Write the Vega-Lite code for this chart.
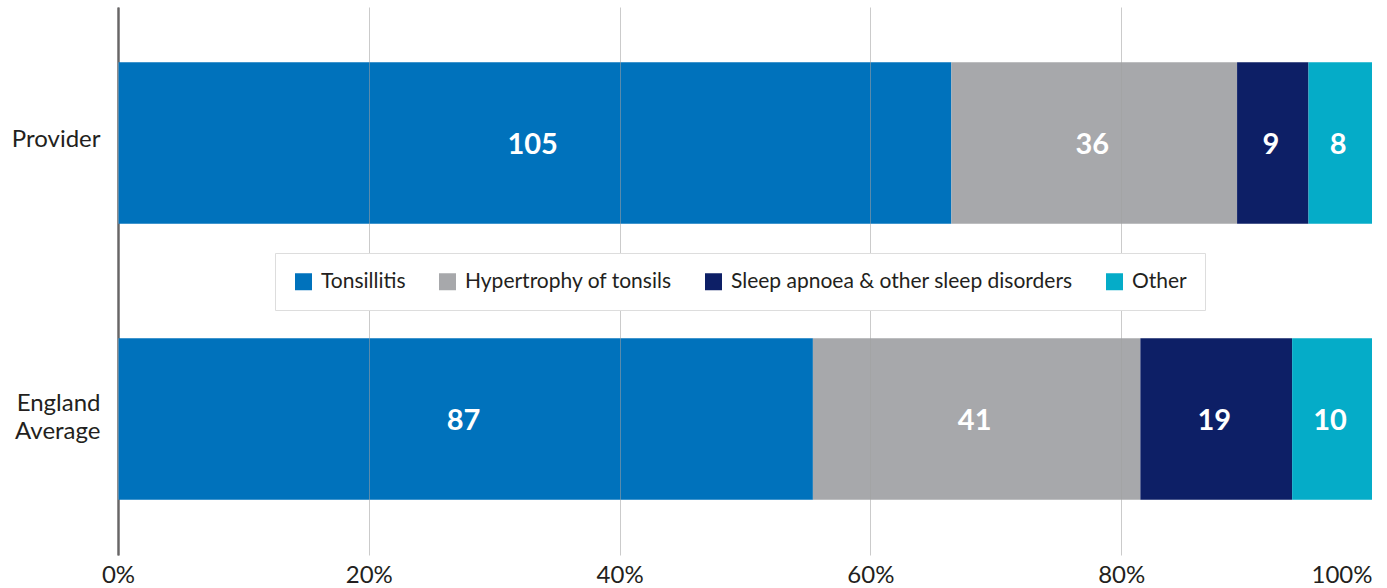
{
  "$schema": "https://vega.github.io/schema/vega-lite/v6.json",
  "width": 1254,
  "height": 548,
  "autosize": {"type": "none"},
  "padding": {"left": 118, "top": 7, "right": 15, "bottom": 33},
  "background": "white",
  "config": {"view": {"stroke": null}, "font": "Lato"},
  "data": {
    "values": [
      {"group": "Provider", "cause": "Tonsillitis", "value": 105},
      {"group": "Provider", "cause": "Hypertrophy of tonsils", "value": 36},
      {"group": "Provider", "cause": "Sleep apnoea & other sleep disorders", "value": 9},
      {"group": "Provider", "cause": "Other", "value": 8},
      {"group": "England Average", "cause": "Tonsillitis", "value": 87},
      {"group": "England Average", "cause": "Hypertrophy of tonsils", "value": 41},
      {"group": "England Average", "cause": "Sleep apnoea & other sleep disorders", "value": 19},
      {"group": "England Average", "cause": "Other", "value": 10}
    ]
  },
  "transform": [
    {"calculate": "indexof(['Tonsillitis','Hypertrophy of tonsils','Sleep apnoea & other sleep disorders','Other'], datum.cause)", "as": "ord"},
    {"stack": "value", "groupby": ["group"], "sort": [{"field": "ord", "order": "ascending"}], "offset": "normalize", "as": ["x0", "x1"]},
    {"calculate": "(datum.x0 + datum.x1) / 2", "as": "xm"}
  ],
  "encoding": {
    "y": {
      "field": "group",
      "type": "nominal",
      "sort": ["Provider", "England Average"],
      "scale": {"paddingInner": 0.415, "paddingOuter": 0.2},
      "axis": {
        "title": null,
        "ticks": false,
        "domainColor": "#231f20",
        "domainWidth": 2,
        "labelFontSize": 24,
        "labelColor": "#231f20",
        "labelPadding": 18,
        "labelLineHeight": 28,
        "labelOffset": {"condition": {"test": "datum.value == 'England Average'", "value": -15}, "value": -3},
        "labelExpr": "datum.label == 'England Average' ? ['England', 'Average'] : datum.label"
      }
    }
  },
  "layer": [
    {
      "mark": {"type": "bar"},
      "encoding": {
        "x": {
          "field": "x0",
          "type": "quantitative",
          "scale": {"domain": [0, 1], "nice": false},
          "axis": {
            "title": null,
            "format": "%",
            "values": [0, 0.2, 0.4, 0.6, 0.8, 1],
            "domain": false,
            "ticks": false,
            "grid": true,
            "gridColor": "#a0a0a0",
            "gridOpacity": {"condition": {"test": "datum.value == 1", "value": 0}, "value": 0.55},
            "gridWidth": 1,
            "zindex": 1,
            "labelFontSize": 24,
            "labelColor": "#231f20",
            "labelPadding": 8,
            "labelAlign": {"condition": {"test": "datum.value == 1", "value": "right"}, "value": "center"}
          }
        },
        "x2": {"field": "x1"},
        "color": {
          "field": "cause",
          "type": "nominal",
          "scale": {
            "domain": ["Tonsillitis", "Hypertrophy of tonsils", "Sleep apnoea & other sleep disorders", "Other"],
            "range": ["#0072BC", "#A7A8AB", "#0D1F66", "#05ACC8"]
          },
          "legend": {
            "title": null,
            "orient": "none",
            "legendX": 157,
            "legendY": 246,
            "direction": "horizontal",
            "fillColor": "white",
            "strokeColor": "#dddddd",
            "padding": 18,
            "symbolType": "square",
            "symbolSize": 289,
            "symbolStrokeWidth": 0,
            "symbolOpacity": 1,
            "labelFontSize": 21,
            "labelColor": "#231f20",
            "labelOffset": 7,
            "columnPadding": 31,
            "labelLimit": 500,
            "zindex": 2
          }
        }
      }
    },
    {
      "mark": {"type": "text", "color": "white", "fontWeight": "bold", "fontSize": 29, "baseline": "middle", "align": "center", "dy": 2, "dx": -2},
      "encoding": {
        "x": {"field": "xm", "type": "quantitative"},
        "text": {"field": "value", "type": "quantitative"}
      }
    }
  ]
}
